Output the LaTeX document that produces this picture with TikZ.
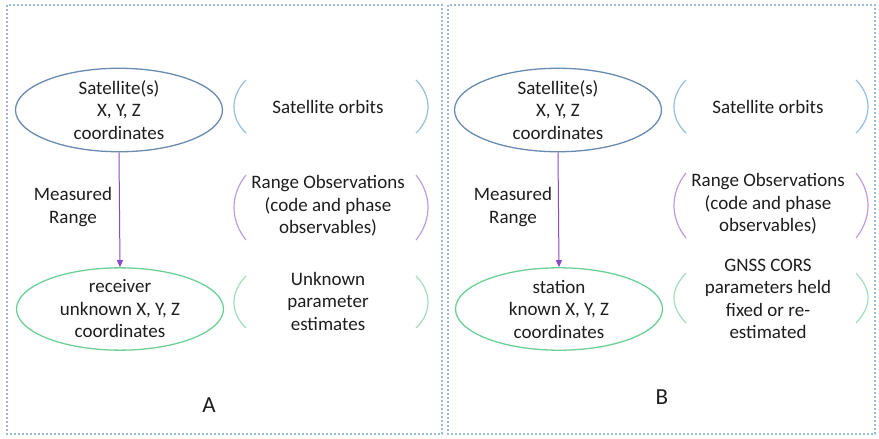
\documentclass[tikz,border=0pt]{standalone}
\usepackage{fontspec}
\setmainfont{Carlito}
\usetikzlibrary{shapes.geometric,arrows.meta}
\definecolor{txt}{HTML}{1E1E1E}
\definecolor{framec}{HTML}{9DB8D8}
\definecolor{satc}{HTML}{6A8BB0}
\definecolor{bluep}{HTML}{94BEE2}
\definecolor{purp}{HTML}{8A4CC6}
\definecolor{purpp}{HTML}{BE9CE0}
\definecolor{greenc}{HTML}{6CD098}
\definecolor{greenp}{HTML}{A2DEBB}
\tikzset{
  lbl/.style={font=\fontsize{19}{22.5}\selectfont, text=txt, align=center, inner sep=0pt},
  ell/.style={ellipse, draw, line width=1.3pt, minimum width=207pt, minimum height=72pt, inner sep=0pt, font=\fontsize{19}{22.5}\selectfont, text=txt, align=center},
  frame/.style={draw=framec, line width=2pt, dotted},
  paren/.style={line width=1.2pt},
  arr/.style={draw=purp, line width=1pt, -{Triangle[length=7pt,width=6pt]}},
  big/.style={font=\fontsize{23}{26}\selectfont, text=txt, inner sep=0pt}
}
\begin{document}
\begin{tikzpicture}[x=1pt,y=-1pt]
\useasboundingbox (0,0) rectangle (879,439);
\fill[white] (0,0) rectangle (879,439);
% frames
\draw[frame] (7,5) rectangle (442,434);
\draw[frame] (448,5) rectangle (875,434);

% ---------- Panel A ----------
\node[ell, draw=satc] (satA) at (119,110) {Satellite(s)\\X, Y, Z\\coordinates};
\node[ell, draw=greenc] (recA) at (120,309) {receiver\\unknown X, Y, Z\\coordinates};
\draw[arr] (satA.south) -- (recA.north);
\node[lbl] (measA) at (73,207) {Measured\\Range};

\node[lbl] (orbA) at (328,107) {Satellite orbits};
\draw[paren,draw=bluep] (246,80) .. controls (230,96) and (230,118) .. (246,133);
\draw[paren,draw=bluep] (416,80) .. controls (432,96) and (432,118) .. (416,133);

\node[lbl] (obsA) at (328,206) {Range Observations\\(code and phase\\observables)};
\draw[paren,draw=purpp] (246,175) .. controls (230,195) and (230,220) .. (246,240);
\draw[paren,draw=purpp] (416,175) .. controls (432,195) and (432,220) .. (416,240);

\node[lbl] (estA) at (328,301) {Unknown\\parameter\\estimates};
\draw[paren,draw=greenp] (246,276) .. controls (230,292) and (230,313) .. (246,328);
\draw[paren,draw=greenp] (416,276) .. controls (432,292) and (432,313) .. (416,328);

\node[big] (labA) at (209,405) {A};

% ---------- Panel B ----------
\node[ell, draw=satc] (satB) at (558,110) {Satellite(s)\\X, Y, Z\\coordinates};
\node[ell, draw=greenc] (staB) at (559,309) {station\\known X, Y, Z\\coordinates};
\draw[arr] (satB.south) -- (staB.north);
\node[lbl] (measB) at (513,207) {Measured\\Range};

\node[lbl] (orbB) at (768,107) {Satellite orbits};
\draw[paren,draw=bluep] (686,80) .. controls (670,96) and (670,118) .. (686,133);
\draw[paren,draw=bluep] (856,80) .. controls (872,96) and (872,118) .. (856,133);

\node[lbl] (obsB) at (768,204) {Range Observations\\(code and phase\\observables)};
\draw[paren,draw=purpp] (686,173) .. controls (670,193) and (670,218) .. (686,238);
\draw[paren,draw=purpp] (856,173) .. controls (872,193) and (872,218) .. (856,238);

\node[lbl] (corsB) at (768,299) {GNSS CORS\\parameters held\\fixed or re-\\estimated};
\draw[paren,draw=greenp] (686,273) .. controls (670,290) and (670,306) .. (686,323);
\draw[paren,draw=greenp] (856,273) .. controls (872,290) and (872,306) .. (856,323);

\node[big] (labB) at (662,397) {B};
\end{tikzpicture}
\end{document}
